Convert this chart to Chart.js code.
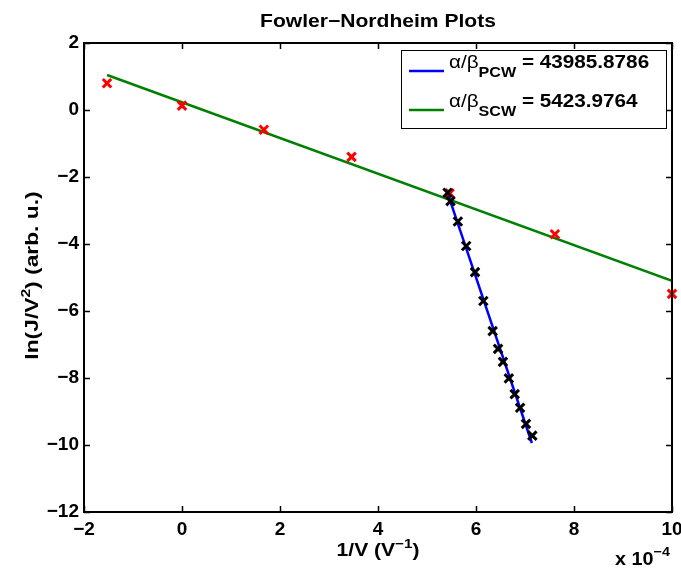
<!DOCTYPE html>
<html>
<head>
<meta charset="utf-8">
<title>Fowler-Nordheim Plots</title>
<script src="https://cdn.jsdelivr.net/npm/chart.js@4.4.1/dist/chart.umd.min.js"></script>
<style>
  html, body { margin: 0; padding: 0; background: #fff; }
</style>
</head>
<body>
<canvas id="fnChart" width="681" height="569"></canvas>
<script>
// x values are in units of 1e-4 (1/V), as on the axis "x 10^-4"
const scwX = [-1.53, 0.0, 1.67, 3.46, 5.46, 7.61, 10.0];
const scwY = [0.80, 0.13, -0.59, -1.40, -2.49, -3.71, -5.49];

const pcwX = [5.42, 5.48, 5.63, 5.80, 5.98, 6.15, 6.34, 6.45, 6.55, 6.67, 6.79, 6.90, 7.02, 7.15];
const pcwY = [-2.47, -2.72, -3.33, -4.06, -4.84, -5.70, -6.60, -7.13, -7.52, -8.01, -8.48, -8.89, -9.37, -9.72];

// fitted lines (end points)
const scwFitX = [-1.53, 10.0];
const scwFitY = [1.045, -5.10];
const pcwFitX = [5.42, 7.14];
const pcwFitY = [-2.48, -9.94];

const xTicks = [-2, 0, 2, 4, 6, 8, 10];
const yTicks = [-12, -10, -8, -6, -4, -2, 0, 2];

const legendItems = [
  { name: 'PCW', value: '43985.8786', color: '#0000ff' },
  { name: 'SCW', value: '5423.9764', color: '#008000' }
];

const FONT = '"Liberation Sans", Arial, Helvetica, sans-serif';

function pts(xs, ys) {
  return xs.map((x, i) => ({ x: x, y: ys[i] }));
}

function minus(v) {
  return v < 0 ? '\u2212' + Math.abs(v) : String(v);
}

// draws a run of text pieces, each with its own font and vertical offset;
// sx stretches the text sideways (matlab's bold helvetica is wider)
function drawRuns(ctx, runs, x, y, align, sx) {
  sx = sx || 1;
  let total = 0;
  runs.forEach(r => { ctx.font = r.font; r.w = ctx.measureText(r.t).width; total += r.w; });
  ctx.save();
  ctx.translate(x, y);
  ctx.scale(sx, 1);
  let cx = align === 'center' ? -total / 2 : 0;
  ctx.textAlign = 'left';
  ctx.textBaseline = 'alphabetic';
  runs.forEach(r => {
    ctx.font = r.font;
    ctx.fillText(r.t, cx, r.dy || 0);
    cx += r.w;
  });
  ctx.restore();
}

const matlabAxes = {
  id: 'matlabAxes',
  afterDatasetsDraw(chart) {
    const ctx = chart.ctx;
    const a = chart.chartArea;
    const xs = chart.scales.x, ys = chart.scales.y;
    ctx.save();
    ctx.strokeStyle = '#000';
    ctx.lineWidth = 2;
    ctx.strokeRect(a.left, a.top, a.right - a.left, a.bottom - a.top);

    // inward ticks on all four sides
    ctx.lineWidth = 1.5;
    ctx.beginPath();
    xTicks.forEach(t => {
      const px = Math.round(xs.getPixelForValue(t)) + 0.5;
      ctx.moveTo(px, a.bottom); ctx.lineTo(px, a.bottom - 6);
      ctx.moveTo(px, a.top); ctx.lineTo(px, a.top + 6);
    });
    yTicks.forEach(t => {
      const py = Math.round(ys.getPixelForValue(t)) + 0.5;
      ctx.moveTo(a.left, py); ctx.lineTo(a.left + 6, py);
      ctx.moveTo(a.right, py); ctx.lineTo(a.right - 6, py);
    });
    ctx.stroke();

    ctx.fillStyle = '#000';
    // title
    drawRuns(ctx, [{ t: 'Fowler\u2212Nordheim Plots', font: 'bold 18px ' + FONT }],
      (a.left + a.right) / 2, 27, 'center', 1.17);

    // x axis title
    drawRuns(ctx, [
      { t: '1/V (V', font: 'bold 18px ' + FONT },
      { t: '\u22121', font: 'bold 13px ' + FONT, dy: -8 },
      { t: ')', font: 'bold 18px ' + FONT }
    ], (a.left + a.right) / 2, 556, 'center', 1.17);

    // exponent
    drawRuns(ctx, [
      { t: 'x 10', font: 'bold 18px ' + FONT },
      { t: '\u22124', font: 'bold 13px ' + FONT, dy: -9 }
    ], 615, 565, 'left', 1.1);

    // y axis title
    ctx.save();
    ctx.translate(38, (a.top + a.bottom) / 2 - 2);
    ctx.rotate(-Math.PI / 2);
    drawRuns(ctx, [
      { t: 'ln(J/V', font: 'bold 19px ' + FONT },
      { t: '2', font: 'bold 13px ' + FONT, dy: -8 },
      { t: ') (arb. u.)', font: 'bold 19px ' + FONT }
    ], 0, 0, 'center', 1.2);
    ctx.restore();

    // legend
    const lx = 401, ly = 50, lw = 265, lh = 78;
    ctx.fillStyle = '#fff';
    ctx.fillRect(lx, ly, lw, lh);
    ctx.strokeStyle = '#000';
    ctx.lineWidth = 1;
    ctx.strokeRect(lx + 0.5, ly + 0.5, lw, lh);
    legendItems.forEach((it, i) => {
      const base = 68 + i * 39;
      ctx.strokeStyle = it.color;
      ctx.lineWidth = 2.5;
      ctx.beginPath();
      ctx.moveTo(409, base + 3);
      ctx.lineTo(444, base + 3);
      ctx.stroke();
      ctx.fillStyle = '#000';
      drawRuns(ctx, [
        { t: '\u03b1/\u03b2', font: '18px ' + FONT },
        { t: it.name, font: 'bold 14px ' + FONT, dy: 9 },
        { t: ' = ' + it.value, font: 'bold 18px ' + FONT }
      ], 449, base, 'left', 1.15);
    });
    ctx.restore();
  }
};

new Chart(document.getElementById('fnChart'), {
  type: 'scatter',
  data: {
    datasets: [
      {
        label: 'SCW data',
        data: pts(scwX, scwY),
        pointStyle: 'crossRot',
        pointRadius: 6,
        pointBorderWidth: 3,
        borderColor: '#ff0000',
        backgroundColor: '#ff0000',
        clip: false,
        order: 1
      },
      {
        label: 'PCW data',
        data: pts(pcwX, pcwY),
        pointStyle: 'crossRot',
        pointRadius: 6,
        pointBorderWidth: 3,
        borderColor: '#000000',
        backgroundColor: '#000000',
        clip: false,
        order: 0
      },
      {
        label: 'SCW fit',
        data: pts(scwFitX, scwFitY),
        showLine: true,
        pointRadius: 0,
        borderColor: '#008000',
        borderWidth: 2.5,
        order: 3
      },
      {
        label: 'PCW fit',
        data: pts(pcwFitX, pcwFitY),
        showLine: true,
        pointRadius: 0,
        borderColor: '#0000ff',
        borderWidth: 2.5,
        order: 2
      }
    ]
  },
  options: {
    responsive: false,
    animation: false,
    layout: { padding: { left: 0, right: 9, top: 43, bottom: 0 } },
    plugins: {
      legend: { display: false },
      title: { display: false },
      tooltip: { enabled: false }
    },
    scales: {
      x: {
        type: 'linear',
        min: -2,
        max: 10,
        grid: { display: false, drawTicks: false },
        border: { display: false },
        afterBuildTicks: s => { s.ticks = xTicks.map(v => ({ value: v })); },
        afterFit: s => { s.height = 57; s.paddingLeft = 0; s.paddingRight = 0; },
        ticks: {
          color: '#000',
          padding: 6,
          maxRotation: 0,
          font: { family: FONT, size: 19, weight: 'bold' },
          callback: v => minus(v)
        }
      },
      y: {
        type: 'linear',
        min: -12,
        max: 2,
        grid: { display: false, drawTicks: false },
        border: { display: false },
        afterBuildTicks: s => { s.ticks = yTicks.map(v => ({ value: v })); },
        afterFit: s => { s.width = 84; s.paddingTop = 0; s.paddingBottom = 0; },
        ticks: {
          color: '#000',
          padding: 5,
          font: { family: FONT, size: 19, weight: 'bold' },
          callback: v => minus(v)
        }
      }
    }
  },
  plugins: [matlabAxes]
});
</script>
</body>
</html>
